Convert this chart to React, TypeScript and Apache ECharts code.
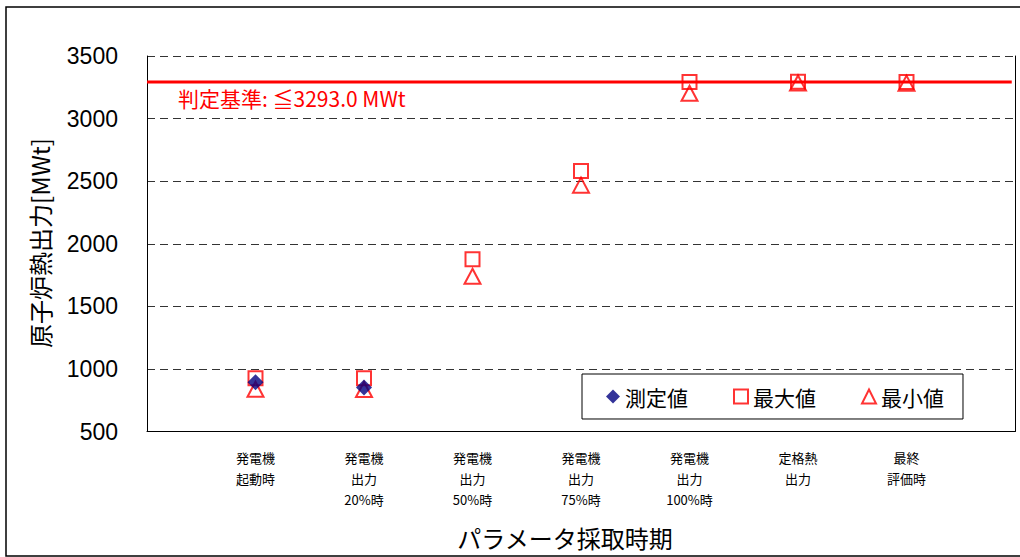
import React, { useEffect, useRef } from "react";
import * as echarts from "echarts";

const categories = [
  "発電機\n起動時",
  "発電機\n出力\n20%時",
  "発電機\n出力\n50%時",
  "発電機\n出力\n75%時",
  "発電機\n出力\n100%時",
  "定格熱\n出力",
  "最終\n評価時",
];
const measuredValues: (number | null)[] = [894, 852, null, null, null, null, null];
const maxValues = [925, 925, 1876, 2582, 3292, 3295, 3293];
const minValues = [838, 836, 1740, 2468, 3202, 3284, 3283];
const criterion = 3293.0;
const yTicks = { min: 500, max: 3500, interval: 500 };

const FONT = "'Liberation Sans', 'Noto Sans CJK JP', sans-serif";
const JP = "'Noto Sans CJK JP', 'Liberation Sans', sans-serif";

const toPairs = (vals: (number | null)[]) =>
  vals
    .map((v, i) => (v == null ? null : [i + 1, v]))
    .filter((p) => p !== null) as number[][];

export default function App() {
  const ref = useRef<HTMLDivElement>(null);
  useEffect(() => {
    if (!ref.current) return;
    const chart = echarts.init(ref.current, null, { renderer: "svg" });
    chart.setOption({
      animation: false,
      backgroundColor: "#ffffff",
      textStyle: { fontFamily: FONT },
      grid: { left: 147, top: 56, right: 5, bottom: 125.5, containLabel: false },
      xAxis: {
        type: "value",
        min: 0,
        max: categories.length + 1,
        interval: 1,
        axisLine: { show: true, lineStyle: { color: "#000", width: 1 } },
        axisTick: { show: false },
        splitLine: { show: false },
        axisLabel: {
          fontFamily: JP,
          fontSize: 13,
          lineHeight: 21,
          color: "#000",
          margin: 15,
          showMinLabel: false,
          showMaxLabel: false,
          formatter: (v: number) => {
            const i = Math.round(v) - 1;
            return i >= 0 && i < categories.length ? categories[i] : "";
          },
        },
      },
      yAxis: [
        {
          type: "value",
          min: yTicks.min,
          max: yTicks.max,
          interval: yTicks.interval,
          axisLine: { show: true, lineStyle: { color: "#000", width: 1 } },
          axisTick: { show: false },
          axisLabel: {
            fontSize: 23,
            color: "#000",
            margin: 29,
            fontFamily: FONT,
            formatter: (v: number) => String(v),
          },
          splitLine: {
            show: true,
            lineStyle: { color: "#333", type: [8, 5], width: 1 },
          },
        },
        {
          type: "value",
          position: "right",
          min: yTicks.min,
          max: yTicks.max,
          interval: yTicks.interval,
          axisLine: { show: true, lineStyle: { color: "#000", width: 1 } },
          axisTick: { show: false },
          axisLabel: { show: false },
          splitLine: { show: false },
        },
      ],
      legend: {
        left: 582,
        top: 374,
        orient: "horizontal",
        backgroundColor: "#fff",
        borderColor: "#000",
        borderWidth: 1,
        padding: [12, 19, 12, 24],
        itemGap: 45,
        itemWidth: 14,
        itemHeight: 14,
        textStyle: { fontSize: 21, color: "#000", fontFamily: JP },
        data: [
          { name: "測定値", icon: "diamond" },
          { name: "最大値", icon: "rect" },
          { name: "最小値", icon: "triangle" },
        ],
      },
      series: [
        {
          name: "判定基準",
          type: "line",
          data: [
            [0, criterion],
            [categories.length + 0.97, criterion],
          ],
          symbol: "none",
          lineStyle: { color: "#ff0000", width: 3 },
          z: 1,
          silent: true,
        },
        {
          name: "最大値",
          type: "scatter",
          data: toPairs(maxValues),
          symbol: "rect",
          symbolSize: 14,
          itemStyle: { color: "rgba(255,255,255,0)", borderColor: "#ff0000", borderWidth: 2 },
          z: 3,
        },
        {
          name: "最小値",
          type: "scatter",
          data: toPairs(minValues),
          symbol: "triangle",
          symbolSize: [16, 15],
          itemStyle: { color: "rgba(255,255,255,0)", borderColor: "#ff0000", borderWidth: 2 },
          z: 3,
        },
        {
          name: "測定値",
          type: "scatter",
          data: toPairs(measuredValues),
          symbol: "diamond",
          symbolSize: 16,
          itemStyle: { color: "#000080" },
          z: 4,
        },
      ],
      graphic: [
        {
          type: "rect",
          shape: { x: 6, y: 7, width: 1030, height: 549 },
          style: { fill: "none", stroke: "#000", lineWidth: 1.5 },
          z: 0,
          silent: true,
        },
        {
          type: "text",
          x: 178,
          y: 98,
          style: {
            text: "判定基準: ≦3293.0 MWt",
            fill: "#ff0000",
            fontSize: 21,
            fontFamily: JP,
            verticalAlign: "middle",
            align: "left",
          },
          z: 10,
        },
        {
          type: "text",
          x: 39,
          y: 243,
          rotation: Math.PI / 2,
          style: {
            text: "原子炉熱出力[MWt]",
            fill: "#000",
            fontSize: 24,
            fontFamily: JP,
            align: "center",
            verticalAlign: "middle",
          },
        },
        {
          type: "text",
          x: 565,
          y: 537,
          style: {
            text: "パラメータ採取時期",
            fill: "#000",
            fontSize: 24,
            fontFamily: JP,
            align: "center",
            verticalAlign: "middle",
          },
        },
      ],
    });
    return () => chart.dispose();
  }, []);
  return (
    <div
      ref={ref}
      style={{ position: "fixed", left: 0, top: 0, width: 1020, height: 557 }}
    />
  );
}
